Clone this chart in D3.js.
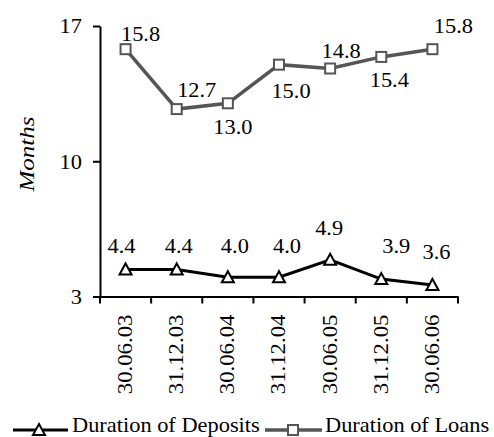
<!DOCTYPE html>
<html>
<head>
<meta charset="utf-8">
<script src="https://cdn.jsdelivr.net/npm/d3@7"></script>
<style>
  html, body { margin: 0; padding: 0; background: #fff; }
  svg { display: block; }
</style>
</head>
<body>
<svg id="chart" width="494" height="437"></svg>
<script>
// Half-year reporting dates
const dates = ["30.06.03", "31.12.03", "30.06.04", "31.12.04", "30.06.05", "31.12.05", "30.06.06"];
// Average duration, months
const depositsDuration = [4.4, 4.4, 4.0, 4.0, 4.9, 3.9, 3.6];
const loansDuration = [15.8, 12.7, 13.0, 15.0, 14.8, 15.4, 15.8];
// Value axis ticks
const yTicks = [3, 10, 17];

// Value-label offsets from each marker (dx, dy in px)
const loansLabelDx = [15, 20, 5, 12, 11, 8, 21];
const loansLabelDy = [-8, -12, 31, 33, -11, 30, -16];
const depositsLabelDx = [-4, 2, 7, 8, -1, 15, 4];
const depositsLabelDy = [-16, -16, -24, -24, -25, -26, -26];

const serif = "Liberation Serif";
const stretch = 1.12; // horizontal widening of all text

const svg = d3.select("#chart");
const plotLeft = 100, plotRight = 458, plotTop = 26, plotBottom = 296.5;

const x = d3.scaleBand().domain(dates).range([plotLeft, plotRight]);
const y = d3.scaleLinear().domain([3, 17]).range([plotBottom, plotTop]);
const cx = d => x(d) + x.bandwidth() / 2;

const loansColor = "#555555";
const depositsColor = "#000000";

function styleText(sel) {
  return sel
    .attr("font-family", serif)
    .attr("font-size", 20)
    .attr("fill", "#000");
}

// Y axis
const yAxis = svg.append("g")
  .attr("transform", `translate(${plotLeft},0)`)
  .call(d3.axisLeft(y).tickValues(yTicks).tickSize(7).tickSizeOuter(0).tickFormat(d3.format("d")))
  .attr("font-family", serif).attr("font-size", 20);
yAxis.select(".domain").attr("stroke", "#000").attr("stroke-width", 2);
yAxis.selectAll(".tick line").attr("stroke", "#000").attr("stroke-width", 2);
yAxis.selectAll(".tick text").call(styleText)
  .attr("x", 0).attr("dy", "0.34em")
  .attr("transform", `translate(-18,0) scale(${stretch},1)`);

// X axis: category labels
const xAxis = svg.append("g")
  .attr("transform", `translate(0,${plotBottom})`)
  .call(d3.axisBottom(x).tickSize(0).tickSizeOuter(0))
  .attr("font-family", serif).attr("font-size", 20);
xAxis.select(".domain").attr("stroke", "#000").attr("stroke-width", 2);
xAxis.selectAll(".tick text").call(styleText)
  .attr("text-anchor", "end")
  .attr("transform", `translate(0,18) rotate(-90) scale(1.14,1)`)
  .attr("x", 0).attr("y", 0)
  .attr("dy", "0.32em");

// X axis: boundary ticks between categories
const boundaries = dates.map(d => x(d)).concat([x.range()[1]]);
xAxis.selectAll(".boundary")
  .data(boundaries)
  .join("line")
  .attr("class", "boundary")
  .attr("x1", d => d).attr("x2", d => d)
  .attr("y1", 0).attr("y2", 7)
  .attr("stroke", "#000").attr("stroke-width", 2);

// Y axis title
svg.append("text")
  .call(styleText)
  .attr("transform", "translate(34,154) rotate(-90) scale(1.25,1)")
  .attr("text-anchor", "middle")
  .attr("font-style", "italic")
  .text("Months");

const line = d3.line().x((d, i) => cx(dates[i])).y(d => y(d));

// Duration of Loans
svg.append("path")
  .datum(loansDuration)
  .attr("d", line)
  .attr("fill", "none")
  .attr("stroke", loansColor)
  .attr("stroke-width", 3.5);

svg.selectAll(".loan-marker")
  .data(loansDuration)
  .join("rect")
  .attr("class", "loan-marker")
  .attr("x", (d, i) => cx(dates[i]) - 5)
  .attr("y", d => y(d) - 5)
  .attr("width", 10).attr("height", 10)
  .attr("fill", "#fff")
  .attr("stroke", loansColor)
  .attr("stroke-width", 2);

// Duration of Deposits
svg.append("path")
  .datum(depositsDuration)
  .attr("d", line)
  .attr("fill", "none")
  .attr("stroke", depositsColor)
  .attr("stroke-width", 3);

const triangle = (px, py) => `M${px},${py - 6}L${px + 6},${py + 5}L${px - 6},${py + 5}Z`;

svg.selectAll(".deposit-marker")
  .data(depositsDuration)
  .join("path")
  .attr("class", "deposit-marker")
  .attr("d", (d, i) => triangle(cx(dates[i]), y(d)))
  .attr("fill", "#fff")
  .attr("stroke", depositsColor)
  .attr("stroke-width", 2);

// Value labels
const fmt = d3.format(".1f");
svg.selectAll(".loan-label")
  .data(loansDuration)
  .join("text")
  .attr("class", "loan-label")
  .call(styleText)
  .attr("text-anchor", "middle")
  .attr("transform", (d, i) =>
    `translate(${cx(dates[i]) + loansLabelDx[i]},${y(d) + loansLabelDy[i]}) scale(${stretch},1)`)
  .text(d => fmt(d));

svg.selectAll(".deposit-label")
  .data(depositsDuration)
  .join("text")
  .attr("class", "deposit-label")
  .call(styleText)
  .attr("text-anchor", "middle")
  .attr("transform", (d, i) =>
    `translate(${cx(dates[i]) + depositsLabelDx[i]},${y(d) + depositsLabelDy[i]}) scale(${stretch},1)`)
  .text(d => fmt(d));

// Legend
const legendY = 430;
const legend = svg.append("g");

legend.append("line")
  .attr("x1", 13).attr("x2", 68).attr("y1", legendY).attr("y2", legendY)
  .attr("stroke", depositsColor).attr("stroke-width", 3);
legend.append("path")
  .attr("d", triangle(39, legendY))
  .attr("fill", "#fff").attr("stroke", depositsColor).attr("stroke-width", 2);
legend.append("text")
  .call(styleText)
  .attr("transform", `translate(72,432) scale(${stretch},1)`)
  .text("Duration of Deposits");

legend.append("line")
  .attr("x1", 265).attr("x2", 322).attr("y1", legendY).attr("y2", legendY)
  .attr("stroke", loansColor).attr("stroke-width", 3.5);
legend.append("rect")
  .attr("x", 288).attr("y", legendY - 5).attr("width", 10).attr("height", 10)
  .attr("fill", "#fff").attr("stroke", loansColor).attr("stroke-width", 2);
legend.append("text")
  .call(styleText)
  .attr("transform", `translate(325,432) scale(${stretch},1)`)
  .text("Duration of Loans");
</script>
</body>
</html>
